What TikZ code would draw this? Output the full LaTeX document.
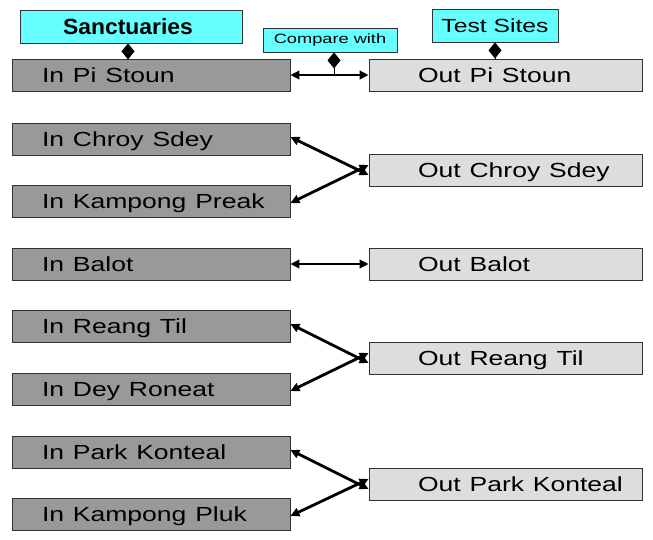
\documentclass[tikz,border=0pt]{standalone}
\usepackage{graphicx}
\usepackage{fontspec}
\setmainfont{Liberation Sans}
\usetikzlibrary{arrows.meta}
\definecolor{ingray}{HTML}{999999}
\definecolor{outgray}{HTML}{DDDDDD}
\definecolor{headcyan}{HTML}{66FFFF}
\newcommand{\wide}[2][1.3]{\scalebox{#1}[1]{#2}}
\newcommand{\intext}[1]{\hspace*{30pt}\wide{#1}}
\newcommand{\outtext}[1]{\hspace*{49pt}\wide{#1}}

\begin{document}
\begin{tikzpicture}[x=1pt, y=-1pt,
  site/.style={draw=black!80, line width=0.8pt, minimum height=32, inner xsep=0, inner ysep=0,
    align=left, text height=14.6pt, text depth=0pt, font=\fontsize{20.4}{24}\selectfont},
  inbox/.style={site, fill=ingray, text width=278},
  outbox/.style={site, fill=outgray, text width=273},
  head/.style={draw=black!80, line width=0.8pt, fill=headcyan, inner sep=0},
  link/.style={line width=2.8pt, {Triangle[length=9pt,width=8.5pt]}-{Triangle[length=9pt,width=8.5pt]}},
  diam/.style={line width=1pt, {Diamond[length=16pt,width=13pt]}-}]
\useasboundingbox (0,0) rectangle (653,539);

% headers
\node [head, minimum width=222, minimum height=33, font=\bfseries\fontsize{22}{24}\selectfont] (sanc) at (131,26.5) {\hspace*{-6pt}\wide[1.04]{Sanctuaries}};
\node [head, minimum width=134, minimum height=24, font=\fontsize{13.5}{16}\selectfont] (cmp) at (330,40) {\wide[1.35]{Compare with}};
\node [head, minimum width=126, minimum height=33, font=\fontsize{19}{22}\selectfont] (test) at (495,25.5) {\wide[1.3]{Test Sites}};

% sanctuaries
\node [inbox] (ips) at (151,75) {\intext{In Pi Stoun}};
\node [inbox] (ics) at (151,139) {\intext{In Chroy Sdey}};
\node [inbox] (ikpr) at (151,201) {\intext{In Kampong Preak}};
\node [inbox] (ib) at (151,264) {\intext{In Balot}};
\node [inbox] (irt) at (151,326) {\intext{In Reang Til}};
\node [inbox] (idr) at (151,389) {\intext{In Dey Roneat}};
\node [inbox] (ipk) at (151,452) {\intext{In Park Konteal}};
\node [inbox] (ikpl) at (151,514) {\intext{In Kampong Pluk}};

% test sites
\node [outbox] (ops) at (505.5,75) {\outtext{Out Pi Stoun}};
\node [outbox] (ocs) at (505.5,170) {\outtext{Out Chroy Sdey}};
\node [outbox] (ob) at (505.5,264) {\outtext{Out Balot}};
\node [outbox] (ort) at (505.5,358) {\outtext{Out Reang Til}};
\node [outbox] (opk) at (505.5,484) {\outtext{Out Park Konteal}};

% header links
\draw [diam] ([xshift=-3pt]sanc.south) -- ([xshift=-3pt]sanc.south |- ips.north);
\draw [diam] ([xshift=4pt]cmp.south) -- ([xshift=4pt]cmp.south |- ips.east);
\draw [diam] (test.south) -- (test.south |- ops.north);

% comparisons
\draw [link] (ips) -- (ops);
\draw [link] ([yshift=2pt]ics.east) -- ([yshift=-5pt]ocs.west);
\draw [link] ([yshift=-2pt]ikpr.east) -- ([yshift=5pt]ocs.west);
\draw [link] (ib) -- (ob);
\draw [link] ([yshift=2pt]irt.east) -- ([yshift=-5pt]ort.west);
\draw [link] ([yshift=-2pt]idr.east) -- ([yshift=5pt]ort.west);
\draw [link] ([yshift=2pt]ipk.east) -- ([yshift=-5pt]opk.west);
\draw [link] ([yshift=-2pt]ikpl.east) -- ([yshift=5pt]opk.west);

\end{tikzpicture}
\end{document}
